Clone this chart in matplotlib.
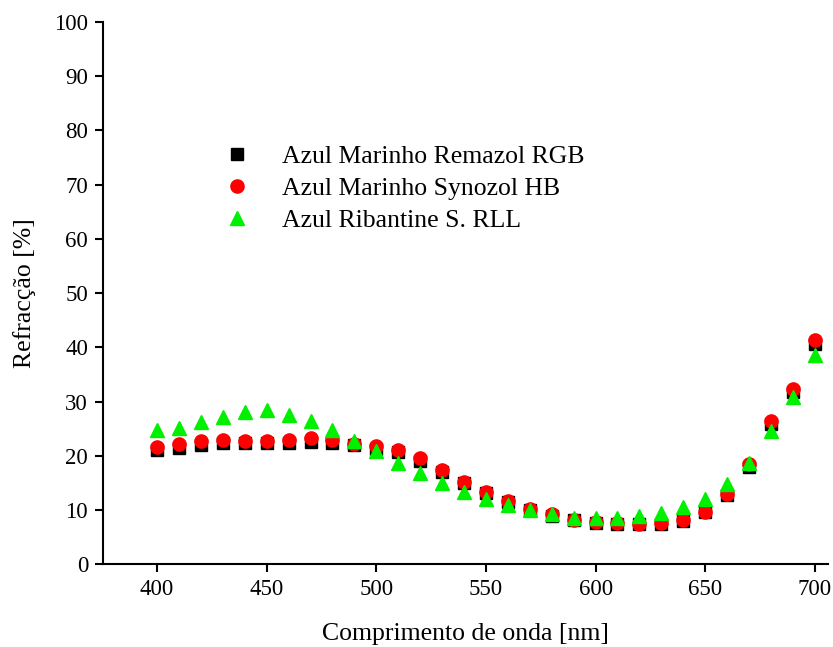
import matplotlib

matplotlib.use("agg")
import matplotlib.pyplot as plt

plt.rcParams["font.family"] = ["Liberation Serif", "DejaVu Serif"]

# wavelength [nm]
wavelength = [400, 410, 420, 430, 440, 450, 460, 470, 480, 490, 500, 510, 520, 530, 540, 550,
              560, 570, 580, 590, 600, 610, 620, 630, 640, 650, 660, 670, 680, 690, 700]

remazol = [21.0, 21.5, 22.0, 22.3, 22.3, 22.3, 22.4, 22.6, 22.4, 21.9, 21.3, 20.7, 19.1, 17.0, 14.9, 13.1,
           11.4, 10.0, 8.9, 8.1, 7.6, 7.4, 7.4, 7.4, 8.0, 9.6, 12.8, 17.9, 25.8, 31.7, 40.6]
synozol = [21.7, 22.2, 22.7, 22.9, 22.7, 22.7, 22.9, 23.2, 22.9, 22.2, 21.8, 21.1, 19.6, 17.3, 15.2, 13.3,
           11.7, 10.2, 9.2, 8.2, 7.8, 7.6, 7.5, 7.6, 8.2, 9.7, 13.0, 18.4, 26.4, 32.4, 41.3]
ribantine = [24.7, 25.2, 26.2, 27.2, 28.1, 28.4, 27.6, 26.4, 24.7, 22.8, 20.8, 18.6, 16.8, 14.9, 13.3, 12.0,
             11.0, 10.0, 9.2, 8.6, 8.6, 8.6, 8.9, 9.5, 10.5, 12.0, 14.7, 18.7, 24.5, 30.8, 38.6]

labels = ["Azul Marinho Remazol RGB", "Azul Marinho Synozol HB", "Azul Ribantine S. RLL"]

fig = plt.figure(figsize=(8.33, 6.47), dpi=100)
ax = fig.add_axes([0.124, 0.128, 0.870, 0.838])

ax.plot(wavelength, remazol, "s", color="black", markersize=8.5, label=labels[0], linestyle="none")
ax.plot(wavelength, synozol, "o", color="#ff0000", markersize=9.5, label=labels[1], linestyle="none")
ax.plot(wavelength, ribantine, "^", color="#00f000", markersize=10, label=labels[2], linestyle="none")

ax.set_xlim(375.5, 706)
ax.set_ylim(0, 100)
ax.set_xticks([400, 450, 500, 550, 600, 650, 700])
ax.set_yticks(range(0, 101, 10))
ax.spines["top"].set_visible(False)
ax.spines["right"].set_visible(False)
ax.spines["left"].set_linewidth(1.5)
ax.spines["bottom"].set_linewidth(1.5)
ax.tick_params(direction="out", length=6, width=1.5, labelsize=16.5, pad=5)

ax.set_xlabel("Comprimento de onda [nm]", fontsize=18.5, labelpad=16)
ax.set_ylabel("Refracção [%]", fontsize=18.5, labelpad=13)

ax.legend(loc="upper left", bbox_to_anchor=(0.126, 0.815), frameon=False, fontsize=18.5,
          handletextpad=1.0, labelspacing=0.35, handlelength=1.5)

plt.savefig("out.png", dpi=100)
